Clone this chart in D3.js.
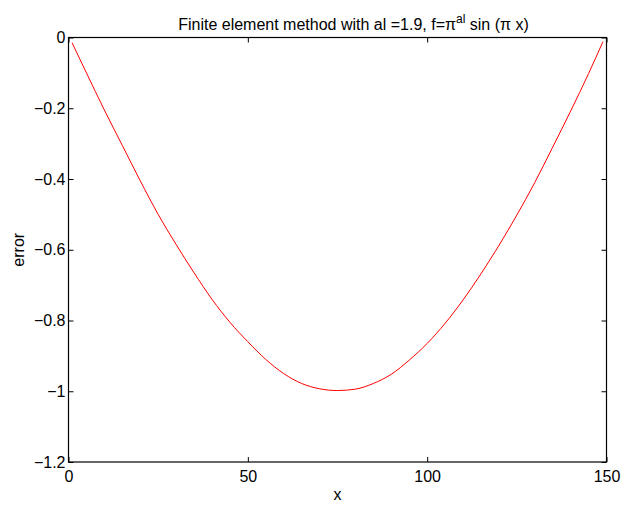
<!DOCTYPE html>
<html lang="en">
<head>
    <meta charset="UTF-8">
    <title>Finite element method error</title>
    <script src="https://d3js.org/d3.v7.min.js"></script>
    <style>
        body { margin: 0; background: #fff; }
        svg { font-family: "Liberation Sans", Arial, sans-serif; }
        .tick text { font-size: 16px; fill: #000; }
        .label { font-size: 16px; }
    </style>
</head>
<body>
<svg width="624" height="508"></svg>
<script>
    // values
    const xs = [1, 5, 10, 15, 20, 25, 30, 35, 40, 45, 50, 55, 60, 65, 70, 75,
        80, 85, 90, 95, 100, 105, 110, 115, 120, 125, 130, 135, 140, 145, 149];
    const errs = [-0.015, -0.10, -0.205, -0.305, -0.405, -0.50, -0.585, -0.665, -0.74, -0.805,
        -0.86, -0.91, -0.95, -0.978, -0.993, -0.998, -0.994, -0.978, -0.952, -0.912,
        -0.865, -0.808, -0.742, -0.668, -0.588, -0.502, -0.41, -0.31, -0.208, -0.102, -0.012];
    const xTicks = [0, 50, 100, 150];
    const yTicks = [0, -0.2, -0.4, -0.6, -0.8, -1, -1.2];

    const data = xs.map((x, i) => ({ x: x, y: errs[i] }));

    const svg = d3.select("svg"),
        margin = { top: 37.5, right: 17.5, bottom: 46, left: 68.5 },
        width = +svg.attr("width") - margin.left - margin.right,
        height = +svg.attr("height") - margin.top - margin.bottom;

    const x = d3.scaleLinear().domain([0, 150]).range([0, width]);
    const y = d3.scaleLinear().domain([-1.2, 0]).range([height, 0]);

    const g = svg.append("g")
        .attr("transform", `translate(${margin.left},${margin.top})`);

    const fmt = d => d === 0 ? "0" : String(d).replace("-", "\u2212");

    // bottom / left axes with labels, ticks pointing inward
    g.append("g")
        .attr("transform", `translate(0,${height})`)
        .call(d3.axisBottom(x).tickValues(xTicks).tickSize(-5).tickPadding(9).tickFormat(fmt))
        .call(a => a.select(".domain").remove());
    g.append("g")
        .call(d3.axisLeft(y).tickValues(yTicks).tickSize(-5).tickPadding(3).tickFormat(fmt))
        .call(a => a.select(".domain").remove());
    // top / right ticks only
    g.append("g")
        .call(d3.axisTop(x).tickValues(xTicks).tickSize(-5).tickFormat(""))
        .call(a => a.select(".domain").remove());
    g.append("g")
        .attr("transform", `translate(${width},0)`)
        .call(d3.axisRight(y).tickValues(yTicks).tickSize(-5).tickFormat(""))
        .call(a => a.select(".domain").remove());

    g.selectAll(".tick line").attr("stroke", "#000");

    g.append("rect")
        .attr("width", width)
        .attr("height", height)
        .attr("fill", "none")
        .attr("stroke", "#000")
        .attr("stroke-width", 1.2);

    g.append("path")
        .datum(data)
        .attr("fill", "none")
        .attr("stroke", "#ff0000")
        .attr("stroke-width", 1)
        .attr("d", d3.line().x(d => x(d.x)).y(d => y(d.y)).curve(d3.curveMonotoneX));

    // title with superscript
    const title = svg.append("text")
        .attr("class", "label")
        .attr("x", margin.left + width / 2 + 16)
        .attr("y", 30)
        .attr("text-anchor", "middle");
    title.append("tspan").text("Finite element method with al =1.9, f=\u03c0");
    title.append("tspan").attr("dy", -7).attr("font-size", 12).text("al");
    title.append("tspan").attr("dy", 7).text(" sin (\u03c0 x)");

    svg.append("text")
        .attr("class", "label")
        .attr("x", margin.left + width / 2)
        .attr("y", 500)
        .attr("text-anchor", "middle")
        .text("x");

    svg.append("text")
        .attr("class", "label")
        .attr("transform", `translate(24,${margin.top + height / 2}) rotate(-90)`)
        .attr("text-anchor", "middle")
        .text("error");
</script>
</body>
</html>
